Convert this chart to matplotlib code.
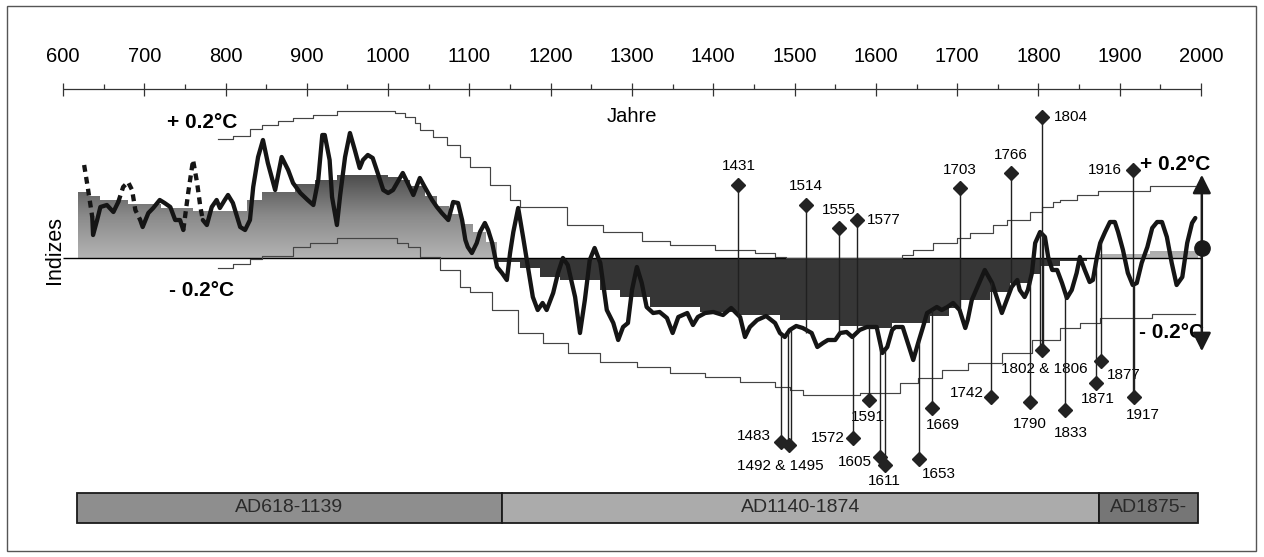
import numpy as np
import matplotlib
matplotlib.use('Agg')
import matplotlib.pyplot as plt
from matplotlib.colors import LinearSegmentedColormap
from matplotlib.patches import Rectangle

plt.rcParams['font.family'] = ['Liberation Sans Narrow', 'Liberation Sans', 'DejaVu Sans']

# index units (0.2 degC ~ 6.3 units)
curve_years = [626, 630, 636, 637, 642, 646, 654, 662, 668, 674, 680, 685, 689, 695, 698,
               705, 711, 719, 725, 732, 738, 744, 748, 754, 760, 765, 769, 772, 777, 783,
               789, 793, 799, 803, 809, 818, 824, 830, 834, 840, 846, 852, 861, 869, 877,
               883, 892, 901, 908, 914, 919, 922, 928, 931, 937, 941, 947, 953, 959, 965,
               969, 975, 981, 988, 994, 1000, 1006, 1018, 1024, 1031, 1039, 1045, 1054, 1060, 1066,
               1074, 1080, 1086, 1091, 1095, 1098, 1103, 1109, 1113, 1119, 1123, 1128, 1134, 1140, 1146,
               1150, 1154, 1160, 1166, 1172, 1178, 1184, 1190, 1195, 1203, 1209, 1215, 1221, 1230, 1236,
               1242, 1248, 1254, 1261, 1269, 1277, 1283, 1289, 1295, 1300, 1306, 1312, 1318, 1326, 1334,
               1343, 1350, 1357, 1368, 1375, 1381, 1390, 1400, 1412, 1422, 1433, 1439, 1445, 1454, 1465,
               1476, 1482, 1488, 1494, 1502, 1510, 1521, 1528, 1535, 1541, 1550, 1556, 1564, 1571, 1580,
               1589, 1601, 1608, 1614, 1620, 1624, 1633, 1646, 1652, 1658, 1663, 1675, 1681, 1688, 1695,
               1703, 1710, 1713, 1718, 1734, 1743, 1749, 1755, 1761, 1767, 1774, 1777, 1783, 1787, 1792,
               1796, 1802, 1808, 1812, 1817, 1823, 1829, 1835, 1841, 1847, 1851, 1857, 1863, 1867, 1872,
               1876, 1882, 1888, 1894, 1898, 1904, 1910, 1916, 1921, 1927, 1934, 1940, 1946, 1952, 1958,
               1964, 1970, 1977, 1983, 1989, 1993]
curve_vals = [9.3, 7.3, 4.1, 2.3, 3.8, 5.1, 5.3, 4.6, 5.6, 7.1, 7.6, 6.8, 4.8, 3.8, 3.1,
              4.5, 5.0, 5.8, 5.5, 5.1, 3.8, 3.8, 2.8, 6.5, 9.8, 7.5, 5.1, 3.8, 3.3, 5.1,
              5.8, 5.0, 5.8, 6.3, 5.5, 3.1, 2.8, 3.8, 7.1, 10.1, 11.8, 9.5, 6.8, 10.1, 8.8,
              7.5, 6.5, 5.8, 5.3, 7.8, 12.3, 12.3, 9.8, 6.1, 3.3, 6.3, 10.1, 12.5, 10.8, 9.0,
              9.8, 10.3, 10.0, 8.3, 6.8, 6.5, 6.8, 8.5, 7.5, 6.3, 8.0, 7.1, 5.8, 5.1, 4.5,
              3.8, 5.6, 5.5, 3.8, 1.8, 1.1, 0.5, 1.5, 2.6, 3.5, 2.8, 1.5, -0.9, -1.5, -2.2,
              0.5, 2.6, 5.0, 2.1, -0.9, -3.9, -5.2, -4.5, -5.2, -3.5, -1.5, 0.0, -0.7, -3.9, -7.5,
              -4.2, -0.2, 1.0, -0.5, -5.2, -6.5, -8.2, -6.9, -6.5, -3.2, -0.9, -2.5, -4.9, -5.5, -5.4,
              -6.0, -7.5, -5.9, -5.5, -6.7, -5.9, -5.5, -5.4, -5.7, -5.0, -5.9, -7.9, -6.9, -6.2, -5.8,
              -6.5, -7.5, -7.9, -7.2, -6.8, -7.0, -7.5, -8.9, -8.5, -8.2, -8.2, -7.5, -7.4, -7.9, -7.2,
              -6.9, -6.9, -9.5, -8.9, -7.2, -6.9, -6.9, -10.2, -8.5, -6.9, -5.5, -4.9, -5.2, -4.9, -4.5,
              -5.2, -7.0, -6.2, -4.2, -1.2, -2.5, -4.0, -5.5, -4.2, -2.9, -2.2, -3.2, -3.9, -3.2, -1.5,
              1.5, 2.6, 2.1, 0.1, -1.2, -1.2, -2.5, -4.0, -3.2, -1.5, 0.1, -1.2, -2.4, -2.2, 0.1,
              1.5, 2.6, 3.6, 3.6, 2.6, 0.8, -1.5, -2.7, -2.5, -0.5, 1.1, 3.0, 3.6, 3.6, 2.1,
              -0.5, -2.7, -1.9, 1.5, 3.5, 4.0]
dashed_spans = [(626, 636), (668, 695), (748, 772)]

mean_years = [618, 630, 645, 680, 720, 760, 826, 845, 885, 910, 937, 1000, 1012, 1027, 1045,
              1060, 1075, 1090, 1105, 1120, 1134, 1162, 1187, 1211, 1261, 1285, 1322, 1384, 1430,
              1482, 1556, 1600, 1620, 1667, 1690, 1703, 1740, 1765, 1790, 1802, 1826, 1860, 1875,
              1937, 1996]
mean_vals = [6.6, 6.2, 5.8, 5.4, 5.0, 4.7, 5.8, 6.6, 7.4, 7.8, 8.3, 8.1, 7.8, 7.2, 6.2,
             5.2, 4.4, 3.4, 2.6, 1.6, -0.4, -1.0, -1.9, -2.2, -3.2, -3.9, -4.9, -5.4, -5.7,
             -6.2, -6.8, -7.0, -6.5, -5.8, -5.0, -4.2, -3.4, -2.5, -1.6, -0.8, -0.3, -0.1, 0.4,
             0.7, 0.7]

up_env_years = [791, 809, 830, 845, 865, 883, 908, 937, 996, 1008, 1021, 1033, 1039, 1055, 1073,
                1088, 1101, 1125, 1150, 1162, 1220, 1264, 1312, 1347, 1402, 1451, 1476, 1490, 1632,
                1646, 1670, 1700, 1716, 1744, 1761, 1790, 1804, 1818, 1826, 1847, 1873, 1937, 1993]
up_env_vals = [11.9, 12.2, 12.9, 13.3, 13.7, 14.0, 14.3, 14.7, 14.7, 14.5, 14.1, 13.5, 12.8, 12.1, 11.3,
               10.1, 9.1, 7.3, 5.8, 5.1, 3.3, 2.6, 1.7, 1.3, 0.8, 0.5, 0.1, 0.0, 0.3,
               0.8, 1.5, 2.0, 2.5, 3.3, 3.8, 4.6, 5.1, 5.6, 5.8, 6.3, 6.7, 7.2, 7.2]
lo_env_years = [791, 809, 830, 845, 883, 904, 937, 978, 1011, 1024, 1039, 1064, 1088, 1101, 1128,
                1160, 1190, 1221, 1261, 1306, 1347, 1390, 1433, 1476, 1494, 1510, 1580, 1630, 1652,
                1681, 1713, 1755, 1792, 1826, 1851, 1876, 1940, 1993]
lo_env_vals = [-1.0, -0.6, -0.1, 0.2, 1.1, 1.5, 2.0, 2.0, 1.5, 1.1, 0.1, -1.2, -2.9, -3.4, -5.2,
               -7.5, -8.5, -9.5, -10.4, -10.9, -11.5, -11.9, -12.4, -12.9, -13.2, -13.7, -13.5, -12.5, -12.0,
               -11.2, -10.5, -9.5, -8.2, -7.0, -6.5, -6.0, -5.6, -5.6]

up_labels = ['1431', '1514', '1555', '1577', '1703', '1766', '1804', '1916']
up_years = [1431, 1514, 1555, 1577, 1703, 1766, 1804, 1916]
up_marks = [7.3, 5.3, 3.0, 3.8, 7.0, 8.5, 14.1, 8.8]
up_reach = [-5.9, -7.5, -7.5, -7.2, -5.2, -2.9, -9.2, -13.9]
up_offs = [(0, 19, 'center'), (0, 19, 'center'), (0, 18, 'center'), (10, 0, 'left'),
           (0, 18, 'center'), (0, 18, 'center'), (12, 0, 'left'), (-11, 0, 'right')]

low_labels = ['1483', '1492 & 1495', '1572', '1591', '1605', '1611', '1653', '1669', '1742',
              '1790', '1802 & 1806', '1833', '1871', '1877', '1917']
low_years = [[1483], [1492, 1495], [1572], [1591], [1605], [1611], [1653], [1669], [1742],
             [1790], [1802, 1806], [1833], [1871], [1877], [1917]]
low_marks = [-18.4, -18.7, -18.0, -14.2, -19.9, -20.7, -20.1, -15.0, -13.9, -14.4, -9.2,
             -15.2, -12.5, -10.3, -13.9]
low_offs = [(-10, 6, 'right'), (-9, -21, 'center'), (-8, 0, 'right'), (-1, -17, 'center'),
            (-8, -5, 'right'), (0, -16, 'center'), (20, -15, 'center'), (11, -17, 'center'),
            (-8, 4, 'right'), (0, -22, 'center'), (3, -19, 'center'), (6, -23, 'center'),
            (2, -16, 'center'), (6, -14, 'left'), (9, -18, 'center')]

periods = [(618, 1139), (1140, 1874), (1875, 1996)]
period_labels = ['AD618-1139', 'AD1140-1874', 'AD1875-']
period_colors = ['#8e8e8e', '#ababab', '#767676']

fig = plt.figure(figsize=(12.64, 5.57), dpi=100)
ax = fig.add_axes([0, 0, 1, 1])

# mean (step) shading
pos = np.clip(mean_vals, 0, None)
neg = np.clip(mean_vals, None, 0)
poly = ax.fill_between(mean_years, 0, pos, step='post', facecolor='none', edgecolor='none')
cmap = LinearSegmentedColormap.from_list('g', ['#b4b4b4', '#8a8a8a', '#4a4a4a'])
im = ax.imshow(np.linspace(0, 1, 200).reshape(-1, 1), extent=(600, 2010, 0, 8.5),
               origin='lower', aspect='auto', cmap=cmap, zorder=1, interpolation='bilinear')
im.set_clip_path(poly.get_paths()[0], transform=ax.transData)
ax.fill_between(mean_years, 0, neg, step='post', color='#363636', lw=0, zorder=1)

ax.hlines(0, 600, 2000, color='k', lw=1.0, zorder=2)

# +-0.2 envelopes
ax.step(up_env_years, up_env_vals, where='post', color='#444444', lw=0.85, zorder=2)
ax.step(lo_env_years, lo_env_vals, where='post', color='#444444', lw=0.85, zorder=2)

# index curve
cy = np.array(curve_years, dtype=float)
cv = np.array(curve_vals)
inner = np.zeros(len(cy), bool)
for a, b in dashed_spans:
    inner |= (cy > a) & (cy < b)
ax.plot(cy, np.where(inner, np.nan, cv), color='#151515', lw=3.1, solid_joinstyle='round',
        solid_capstyle='round', zorder=3)
for a, b in dashed_spans:
    m = (cy >= a) & (cy <= b)
    ax.plot(cy[m], cv[m], color='#151515', lw=3.1, ls=(0, (1.6, 1.2)), zorder=3)

# events
pt = 0.72
for lab, yr, mk, reach, (dx, dy, ha) in zip(up_labels, up_years, up_marks, up_reach, up_offs):
    ax.vlines(yr, reach, mk, color='#202020', lw=1.0, zorder=4)
    ax.plot(yr, mk, 'D', color='#222222', ms=7.5, zorder=5)
    ax.annotate(lab, (yr, mk), xytext=(dx * pt, dy * pt), textcoords='offset points',
                ha=ha, va='center', fontsize=11)
for lab, yrs, mk, (dx, dy, ha) in zip(low_labels, low_years, low_marks, low_offs):
    for yr in yrs:
        ax.vlines(yr, mk, np.interp(yr, cy, cv), color='#202020', lw=1.0, zorder=4)
    xm = np.mean(yrs)
    ax.plot(xm, mk, 'D', color='#222222', ms=7.5, zorder=5)
    ax.annotate(lab, (xm, mk), xytext=(dx * pt, dy * pt), textcoords='offset points',
                ha=ha, va='center', fontsize=11)

# top year axis
ax.hlines(16.9, 600, 2000, color='#333333', lw=0.9)
for yr in range(600, 2001, 100):
    ax.vlines(yr, 16.2, 17.5, color='#333333', lw=0.9)
    ax.text(yr, 20.1, str(yr), ha='center', va='center', fontsize=14.5)
for yr in range(650, 2000, 100):
    ax.vlines(yr, 16.9, 17.4, color='#333333', lw=0.9)
ax.text(1300, 14.2, 'Jahre', ha='center', va='center', fontsize=14.5)
ax.text(590, 0.8, 'Indizes', ha='center', va='center', rotation=90, fontsize=15.5)

# +-0.2 degC labels
ax.text(771, 13.6, '+ 0.2°C', ha='center', va='center', fontsize=15, fontweight='bold')
ax.text(771, -3.3, '- 0.2°C', ha='center', va='center', fontsize=15, fontweight='bold')
ax.text(1968, 9.3, '+ 0.2°C', ha='center', va='center', fontsize=15, fontweight='bold')
ax.text(1964, -7.4, '- 0.2°C', ha='center', va='center', fontsize=15, fontweight='bold')

# double arrow with dot
ax.annotate('', xy=(2001, 8.6), xytext=(2001, 1.0),
            arrowprops=dict(arrowstyle='-|>', color='#1a1a1a', lw=1.8, mutation_scale=28))
ax.annotate('', xy=(2001, -9.6), xytext=(2001, 1.0),
            arrowprops=dict(arrowstyle='-|>', color='#1a1a1a', lw=1.8, mutation_scale=28))
ax.plot(2001, 1.0, 'o', color='#1a1a1a', ms=11, zorder=6)

# period bar
for (a, b), lab, col in zip(periods, period_labels, period_colors):
    ax.add_patch(Rectangle((a - 0.5, -26.5), b - a + 1, 3.0, facecolor=col,
                           edgecolor='#1a1a1a', lw=1.3))
    ax.text((a + b) / 2, -25.0, lab, ha='center', va='center', fontsize=14, color='#2a2a2a')

ax.set_xlim(522.5, 2077.5)
ax.set_ylim(-29.9, 25.8)
ax.axis('off')

fig.add_artist(Rectangle((7 / 1264, 1 - 551 / 557), 1249 / 1264, 545 / 557,
                         transform=fig.transFigure, fill=False, edgecolor='#555555', lw=1.0))

fig.savefig('out.png', dpi=100)
